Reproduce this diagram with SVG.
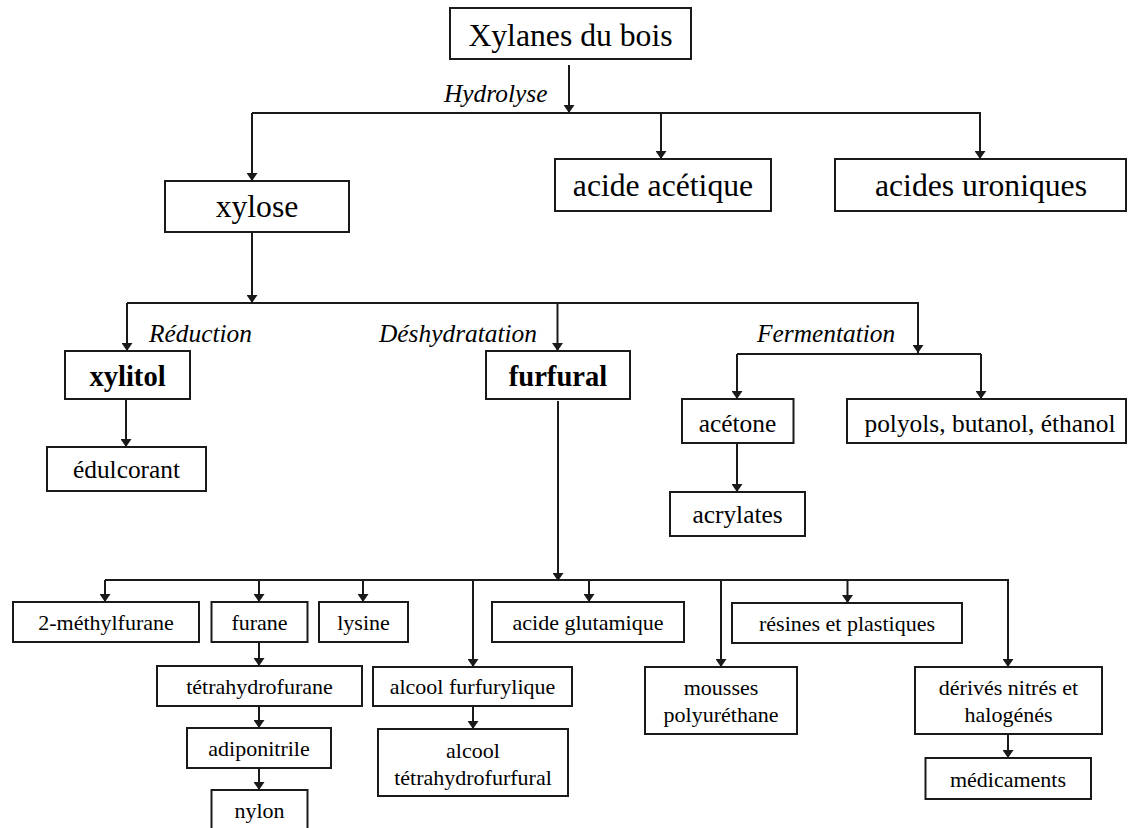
<svg xmlns="http://www.w3.org/2000/svg" width="1128" height="828" viewBox="0 0 1128 828">
<style>
.box{fill:#fff;stroke:#1a1a1a;stroke-width:2}
.ln{fill:none;stroke:#1a1a1a;stroke-width:2}
.ar{fill:none;stroke:#1a1a1a;stroke-width:2;marker-end:url(#ah)}
text{font-family:"Liberation Serif","Times New Roman",serif;fill:#000;text-anchor:middle}
.t1{font-size:31.7px}
.t2{font-size:28.6px;font-weight:bold}
.t3{font-size:25.4px}
.t4{font-size:22px}
.lb{font-size:25.4px;font-style:italic;text-anchor:start}
</style>
<defs>
<marker id="ah" viewBox="0 0 8 11" refX="8" refY="5.5" markerWidth="8" markerHeight="11" markerUnits="userSpaceOnUse" orient="auto">
<path d="M0,0 L8,5.5 L0,11 z" fill="#1a1a1a"/>
</marker>
</defs>
<g id="connectors">
<line class="ar" x1="569" y1="65" x2="569" y2="113"/>
<line class="ln" x1="252" y1="113" x2="981" y2="113"/>
<line class="ar" x1="252" y1="113" x2="252" y2="181"/>
<line class="ar" x1="661" y1="113" x2="661" y2="159"/>
<line class="ar" x1="980" y1="113" x2="980" y2="159"/>
<line class="ar" x1="252" y1="232" x2="252" y2="303"/>
<line class="ln" x1="127" y1="303" x2="919" y2="303"/>
<line class="ar" x1="127" y1="303" x2="127" y2="351"/>
<line class="ar" x1="557.5" y1="303" x2="557.5" y2="351"/>
<line class="ar" x1="918" y1="303" x2="918" y2="353"/>
<line class="ln" x1="737" y1="354" x2="981" y2="354"/>
<line class="ar" x1="737" y1="354" x2="737" y2="399"/>
<line class="ar" x1="981" y1="354" x2="981" y2="399"/>
<line class="ar" x1="126" y1="399" x2="126" y2="447"/>
<line class="ar" x1="737" y1="443" x2="737" y2="492"/>
<line class="ar" x1="558" y1="401" x2="558" y2="581"/>
<line class="ln" x1="105" y1="580" x2="1009" y2="580"/>
<line class="ar" x1="105" y1="580" x2="105" y2="602"/>
<line class="ar" x1="259" y1="580" x2="259" y2="602"/>
<line class="ar" x1="363" y1="580" x2="363" y2="602"/>
<line class="ar" x1="473" y1="580" x2="473" y2="667"/>
<line class="ar" x1="589" y1="580" x2="589" y2="602"/>
<line class="ar" x1="721" y1="580" x2="721" y2="667"/>
<line class="ar" x1="847.5" y1="580" x2="847.5" y2="603"/>
<line class="ar" x1="1008" y1="580" x2="1008" y2="667"/>
<line class="ar" x1="259" y1="642" x2="259" y2="666"/>
<line class="ar" x1="259" y1="706" x2="259" y2="728"/>
<line class="ar" x1="259" y1="768" x2="259" y2="790"/>
<line class="ar" x1="473" y1="706" x2="473" y2="729"/>
<line class="ar" x1="1008" y1="734" x2="1008" y2="758"/>
</g>
<g id="labels">
<text class="lb" x="444" y="102">Hydrolyse</text>
<text class="lb" x="149" y="342">Réduction</text>
<text class="lb" x="379" y="342">Déshydratation</text>
<text class="lb" x="757" y="342">Fermentation</text>
</g>
<g id="xylanes"><rect class="box" x="450" y="8" width="241" height="51"/><text class="t1" x="570.5" y="46">Xylanes du bois</text></g>
<g id="xylose"><rect class="box" x="165" y="181" width="184" height="51"/><text class="t1" x="257" y="217">xylose</text></g>
<g id="acide-acetique"><rect class="box" x="555" y="159" width="216" height="52"/><text class="t1" x="663" y="196">acide acétique</text></g>
<g id="acides-uroniques"><rect class="box" x="835" y="159" width="291" height="52"/><text class="t1" x="981" y="196">acides uroniques</text></g>
<g id="xylitol"><rect class="box" x="65" y="351" width="125" height="48"/><text class="t2" x="127.5" y="386">xylitol</text></g>
<g id="furfural"><rect class="box" x="486" y="351" width="144" height="48"/><text class="t2" x="558" y="386">furfural</text></g>
<g id="edulcorant"><rect class="box" x="47" y="447" width="159" height="44"/><text class="t3" x="126.5" y="478">édulcorant</text></g>
<g id="acetone"><rect class="box" x="682" y="399" width="111.5" height="44"/><text class="t3" x="737.5" y="431.5">acétone</text></g>
<g id="polyols"><rect class="box" x="847" y="399" width="279" height="44"/><text class="t3" x="990" y="431.5">polyols, butanol, éthanol</text></g>
<g id="acrylates"><rect class="box" x="670" y="492" width="135" height="44"/><text class="t3" x="737.5" y="522.5">acrylates</text></g>
<g id="methylfurane"><rect class="box" x="13" y="602" width="186" height="40"/><text class="t4" x="106" y="630">2-méthylfurane</text></g>
<g id="furane"><rect class="box" x="211.5" y="602" width="96" height="40"/><text class="t4" x="259.5" y="630">furane</text></g>
<g id="lysine"><rect class="box" x="319" y="602" width="89" height="40"/><text class="t4" x="363.5" y="630">lysine</text></g>
<g id="acide-glutamique"><rect class="box" x="492" y="602" width="192" height="40"/><text class="t4" x="588" y="630">acide glutamique</text></g>
<g id="resines"><rect class="box" x="732" y="603" width="230" height="40"/><text class="t4" x="847" y="631">résines et plastiques</text></g>
<g id="thf"><rect class="box" x="157" y="666" width="205" height="40"/><text class="t4" x="259.5" y="694">tétrahydrofurane</text></g>
<g id="alcool-furfurylique"><rect class="box" x="373" y="667" width="199" height="39"/><text class="t4" x="472.5" y="694">alcool furfurylique</text></g>
<g id="mousses"><rect class="box" x="645" y="667" width="152" height="67"/><text class="t4" x="721" y="695">mousses</text><text class="t4" x="721" y="721.5">polyuréthane</text></g>
<g id="derives"><rect class="box" x="915" y="667" width="187" height="67"/><text class="t4" x="1008.5" y="695">dérivés nitrés et</text><text class="t4" x="1008.5" y="721.5">halogénés</text></g>
<g id="adiponitrile"><rect class="box" x="187" y="728" width="144" height="40"/><text class="t4" x="259" y="756">adiponitrile</text></g>
<g id="alcool-thf"><rect class="box" x="378" y="729" width="190" height="67"/><text class="t4" x="473" y="758">alcool</text><text class="t4" x="473" y="785">tétrahydrofurfural</text></g>
<g id="medicaments"><rect class="box" x="925.5" y="758" width="165.5" height="41"/><text class="t4" x="1008" y="787">médicaments</text></g>
<g id="nylon"><rect class="box" x="211.5" y="790" width="96" height="44"/><text class="t4" x="259.5" y="818">nylon</text></g>
</svg>
